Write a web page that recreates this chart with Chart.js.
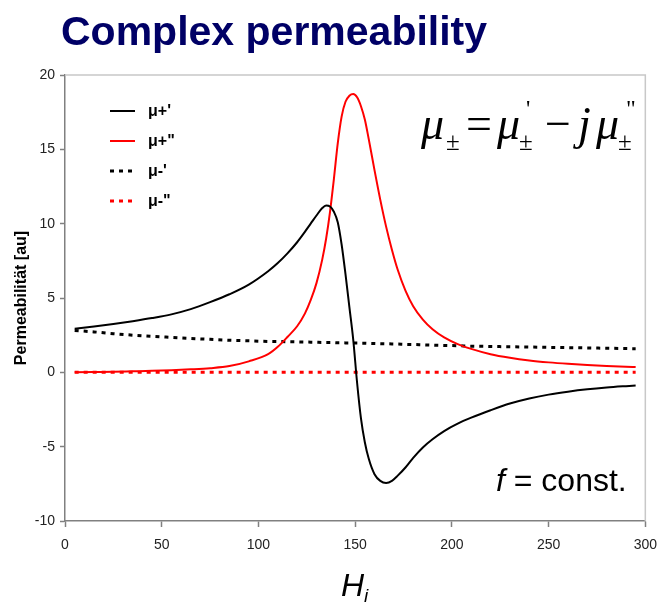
<!DOCTYPE html>
<html>
<head>
<meta charset="utf-8">
<script src="https://cdn.jsdelivr.net/npm/chart.js@4.4.1/dist/chart.umd.min.js"></script>
<style>
    html, body { margin: 0; padding: 0; background: #fff; }
    #wrap { position: relative; width: 667px; height: 602px; overflow: hidden; }
    #chart { position: absolute; left: 0; top: 0; }
    .txt { position: absolute; white-space: nowrap; line-height: 1; }
    #title { left: 61px; top: 8px; font: bold 41px "Liberation Sans", Arial, sans-serif; color: #000066; }
    #formula span { position: absolute; white-space: nowrap; color: #000; font-family: "Liberation Serif", "Times New Roman", serif; }
    #formula .big { font-size: 46px; line-height: 46px; top: 101px; }
    #formula .it { font-style: italic; }
    #formula .sb { font-size: 25px; line-height: 25px; top: 129px; }
    #formula .sp { font-size: 24px; line-height: 24px; top: 96px; }
    #fconst { left: 496px; top: 462px; font: 32px "Liberation Sans", Arial, sans-serif; color: #000; }
    #xtitle { left: 341px; top: 567px; font: italic 32px "Liberation Sans", Arial, sans-serif; color: #000; }
    #xtitle sub { font-size: 19px; vertical-align: -6px; }
</style>
</head>
<body>
<div id="wrap">
    <canvas id="chart" width="667" height="602"></canvas>
    <div class="txt" id="title">Complex permeability</div>
    <div id="formula">
        <span class="big it" style="left:421px">μ</span>
        <span class="sb" style="left:446px">±</span>
        <span class="big" style="left:466px">=</span>
        <span class="big it" style="left:497px">μ</span>
        <span class="sp" style="left:526px">'</span>
        <span class="sb" style="left:519px">±</span>
        <span class="big" style="left:545px">−</span>
        <span class="big it" style="left:578px">j</span>
        <span class="big it" style="left:596px">μ</span>
        <span class="sp" style="left:626px">"</span>
        <span class="sb" style="left:618px">±</span>
    </div>
    <div class="txt" id="fconst"><i>f</i> = const.</div>
    <div class="txt" id="xtitle">H<sub>i</sub></div>
</div>
<script>
// field values (x axis)
const fieldH = [5, 15, 25, 35, 45, 55, 65, 75, 85, 95, 105, 110, 115, 120, 124, 127, 130, 133, 135, 137, 139, 141, 143, 145, 147, 149, 151, 153, 155, 157, 160, 163, 166, 169, 172, 176, 180, 185, 190, 196, 203, 210, 220, 230, 240, 250, 260, 270, 280, 290, 295];

// mu+' (black solid)
const muPlusRe = [2.93, 3.08, 3.25, 3.44, 3.65, 3.9, 4.25, 4.72, 5.25, 5.9, 6.8, 7.35, 8.0, 8.75, 9.45, 10.0, 10.55, 11.05, 11.22, 11.15, 10.8, 10.1, 8.6, 6.6, 4.4, 2.2, -0.7, -3.1, -4.7, -5.8, -6.85, -7.3, -7.44, -7.3, -6.95, -6.4, -5.75, -5.05, -4.5, -3.95, -3.45, -3.05, -2.55, -2.1, -1.76, -1.5, -1.3, -1.14, -1.02, -0.93, -0.89];

// mu+" (red solid)
const muPlusIm = [0.0, 0.02, 0.04, 0.07, 0.1, 0.14, 0.2, 0.28, 0.42, 0.74, 1.22, 1.72, 2.38, 3.1, 3.95, 4.85, 6.0, 7.6, 9.0, 10.8, 13.0, 15.4, 17.2, 18.2, 18.6, 18.72, 18.5, 17.9, 17.0, 15.7, 13.6, 11.6, 9.8, 8.25, 6.9, 5.5, 4.45, 3.55, 2.9, 2.35, 1.9, 1.58, 1.22, 0.98, 0.8, 0.67, 0.57, 0.49, 0.43, 0.38, 0.36];

// mu-' (black dotted)
const muMinusRe = [2.82, 2.72, 2.6, 2.5, 2.42, 2.35, 2.28, 2.22, 2.16, 2.12, 2.08, 2.07, 2.06, 2.05, 2.04, 2.03, 2.02, 2.01, 2.01, 2.0, 2.0, 1.99, 1.99, 1.98, 1.98, 1.97, 1.97, 1.96, 1.96, 1.95, 1.94, 1.93, 1.92, 1.91, 1.9, 1.88, 1.87, 1.85, 1.83, 1.81, 1.79, 1.76, 1.74, 1.72, 1.7, 1.68, 1.66, 1.64, 1.62, 1.6, 1.59];

// mu-" (red dotted)
const muMinusIm = [0, 0, 0, 0, 0, 0, 0, 0, 0, 0, 0, 0, 0, 0, 0, 0, 0, 0, 0, 0, 0, 0, 0, 0, 0, 0, 0, 0, 0, 0, 0, 0, 0, 0, 0, 0, 0, 0, 0, 0, 0, 0, 0, 0, 0, 0, 0, 0, 0, 0, 0];

const seriesLabels = ["μ+'", 'μ+"', "μ-'", 'μ-"'];
const xTicks = [0, 50, 100, 150, 200, 250, 300];
const yTicks = [-10, -5, 0, 5, 10, 15, 20];

const toPoints = arr => fieldH.map((h, i) => ({ x: h, y: arr[i] }));

// legend drawn inside the plot area
const insideLegend = {
    id: "insideLegend",
    afterDraw(chart) {
        const ctx = chart.ctx;
        ctx.save();
        chart.data.datasets.forEach((ds, i) => {
            const y = 111 + i * 30;
            ctx.beginPath();
            ctx.strokeStyle = ds.borderColor;
            ctx.lineWidth = ds.borderWidth;
            ctx.setLineDash(ds.borderDash || []);
            ctx.moveTo(110, y);
            ctx.lineTo(135, y);
            ctx.stroke();
            ctx.setLineDash([]);
            ctx.fillStyle = "#000";
            ctx.font = "bold 16px 'Liberation Sans', Arial, sans-serif";
            ctx.textBaseline = "middle";
            ctx.fillText(ds.label, 148, y + 1);
        });
        ctx.restore();
    }
};

// light frame on top / right of plot area
const plotFrame = {
    id: "plotFrame",
    beforeDatasetsDraw(chart) {
        const { left, top, right, bottom } = chart.chartArea;
        const ctx = chart.ctx;
        ctx.save();
        ctx.strokeStyle = "#c8c8c8";
        ctx.lineWidth = 1.5;
        ctx.beginPath();
        ctx.moveTo(left, top);
        ctx.lineTo(right, top);
        ctx.lineTo(right, bottom);
        ctx.stroke();
        ctx.restore();
    }
};

new Chart(document.getElementById("chart"), {
    type: "line",
    data: {
        datasets: [
            { label: seriesLabels[0], data: toPoints(muPlusRe), borderColor: "#000000", borderWidth: 2 },
            { label: seriesLabels[1], data: toPoints(muPlusIm), borderColor: "#ff0000", borderWidth: 2 },
            { label: seriesLabels[2], data: toPoints(muMinusRe), borderColor: "#000000", borderWidth: 3, borderDash: [4, 5] },
            { label: seriesLabels[3], data: toPoints(muMinusIm), borderColor: "#ff0000", borderWidth: 3, borderDash: [4, 5] }
        ]
    },
    options: {
        responsive: false,
        animation: false,
        cubicInterpolationMode: "monotone",
        elements: { point: { radius: 0 } },
        layout: { padding: { left: 0, top: 75, right: 17, bottom: 0 } },
        plugins: { legend: { display: false }, tooltip: { enabled: false } },
        scales: {
            x: {
                type: "linear",
                min: 0,
                max: 300,
                afterFit: s => { s.height = 81; },
                afterBuildTicks: s => { s.ticks = xTicks.map(v => ({ value: v })); },
                border: { color: "#808080", width: 1.5 },
                grid: { drawOnChartArea: false, tickLength: 6, color: "#808080", tickWidth: 1.5 },
                ticks: { padding: 10, color: "#222", font: { family: "'Liberation Sans', Arial", size: 14 } }
            },
            y: {
                min: -10,
                max: 20,
                afterFit: s => { s.width = 65; },
                afterBuildTicks: s => { s.ticks = yTicks.map(v => ({ value: v })); },
                border: { color: "#808080", width: 1.5 },
                grid: { drawOnChartArea: false, tickLength: 5, color: "#808080", tickWidth: 1.5 },
                ticks: { padding: 5, color: "#222", font: { family: "'Liberation Sans', Arial", size: 14 } },
                title: {
                    display: true,
                    text: "Permeabilität [au]",
                    color: "#000",
                    font: { family: "'Liberation Sans', Arial", size: 16, weight: "bold" },
                    padding: { top: 12, bottom: 0 }
                }
            }
        }
    },
    plugins: [insideLegend, plotFrame]
});
</script>
</body>
</html>
